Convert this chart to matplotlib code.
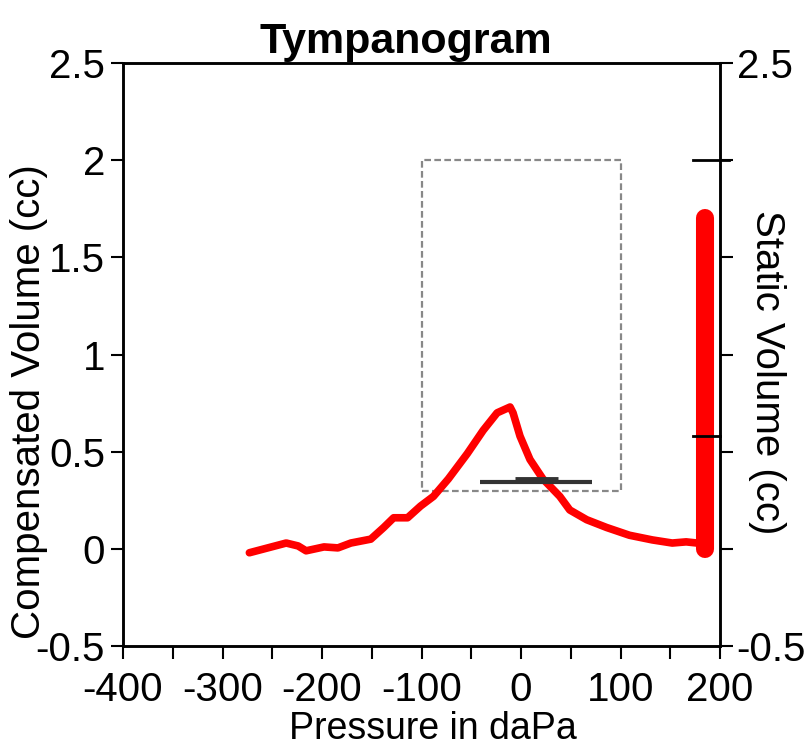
import matplotlib
matplotlib.use('Agg')
import matplotlib.pyplot as plt
from matplotlib.patches import Rectangle
import numpy as np

# tympanogram trace
pressure = [-273, -236, -224, -216, -198, -184, -171, -151, -138, -128, -114, -101, -88,
            -73, -54, -38, -24, -11, -8, -1, 9, 22, 39, 49, 66, 86, 109, 132, 152, 166, 177, 185]
volume = [-0.02, 0.03, 0.015, -0.01, 0.01, 0.005, 0.03, 0.05, 0.11, 0.16, 0.16, 0.22, 0.27,
          0.36, 0.49, 0.61, 0.70, 0.73, 0.70, 0.58, 0.46, 0.36, 0.27, 0.20, 0.15, 0.11, 0.07,
          0.046, 0.03, 0.036, 0.03, 0.02]

# normal region box and gradient marker
box_x = [-100, 100]
box_y = [0.3, 2.0]
grad_x = [-41, 71]
grad_y = 0.345
grad_bump_x = [-6, 37]
grad_bump_y = 0.36

# static volume bar
static_x = 185
static_y = [0.0, 1.70]
static_marks = [2.0, 0.58]

xticks = np.arange(-400, 201, 100)
yticks = np.arange(-0.5, 2.51, 0.5)

plt.rcParams['font.family'] = ['Liberation Sans', 'DejaVu Sans']
plt.rcParams['font.size'] = 29

fig = plt.figure(figsize=(8.12, 7.54), dpi=100)
ax = fig.add_axes([0.1515, 0.1432, 0.7352, 0.7732])

ax.plot(pressure, volume, color='#ff0000', lw=5.5, solid_joinstyle='round', solid_capstyle='round')

ax.add_patch(Rectangle((box_x[0], box_y[0]), box_x[1] - box_x[0], box_y[1] - box_y[0],
                       fill=False, ec='#888888', ls=(0, (3, 1.5)), lw=1.6))
ax.plot(grad_x, [grad_y, grad_y], color='#333333', lw=3, solid_capstyle='butt')
ax.plot(grad_bump_x, [grad_bump_y, grad_bump_y], color='#333333', lw=3.5, solid_capstyle='butt')

ax.plot([static_x, static_x], static_y, color='#ff0000', lw=13, solid_capstyle='round')
ax.plot([173, 209], [static_marks[0]] * 2, color='black', lw=2, clip_on=False)
ax.plot([173, 200], [static_marks[1]] * 2, color='black', lw=2, clip_on=False)

ax.set_xlim(-400, 200)
ax.set_ylim(-0.5, 2.5)
ax.set_xticks(xticks)
ax.set_xticks(np.arange(-400, 201, 50), minor=True)
ax.set_xticklabels([f'{v:g}' for v in xticks])
ax.set_yticks(yticks)
ax.set_yticklabels([f'{v:g}' for v in yticks])
ax.tick_params(which='both', direction='out', length=9, width=1.5)
ax.tick_params(axis='x', pad=9)
ax.tick_params(axis='y', pad=4)

ax2 = ax.twinx()
ax2.set_ylim(-0.5, 2.5)
ax2.set_yticks(yticks)
ax2.set_yticklabels(['-0.5', '', '', '', '', '', '2.5'])
ax2.tick_params(direction='out', length=9, width=1.5, pad=3)

for a in (ax, ax2):
    for s in a.spines.values():
        s.set_linewidth(1.8)

ax.text(0.474, 1.017, 'Tympanogram', transform=ax.transAxes, ha='center', va='baseline',
        fontsize=31, fontweight='bold')
ax.set_xlabel('Pressure in daPa', fontsize=27, va='top')
ax.xaxis.set_label_coords(0.519, -0.1115)
ax.set_ylabel('Compensated Volume (cc)', fontsize=29)
ax.yaxis.set_label_coords(-0.125, 0.42)
ax2.set_ylabel('Static Volume (cc)', fontsize=29, rotation=-90, va='bottom')
ax2.yaxis.set_label_coords(1.047, 0.47)

fig.savefig('out.png', dpi=100)
